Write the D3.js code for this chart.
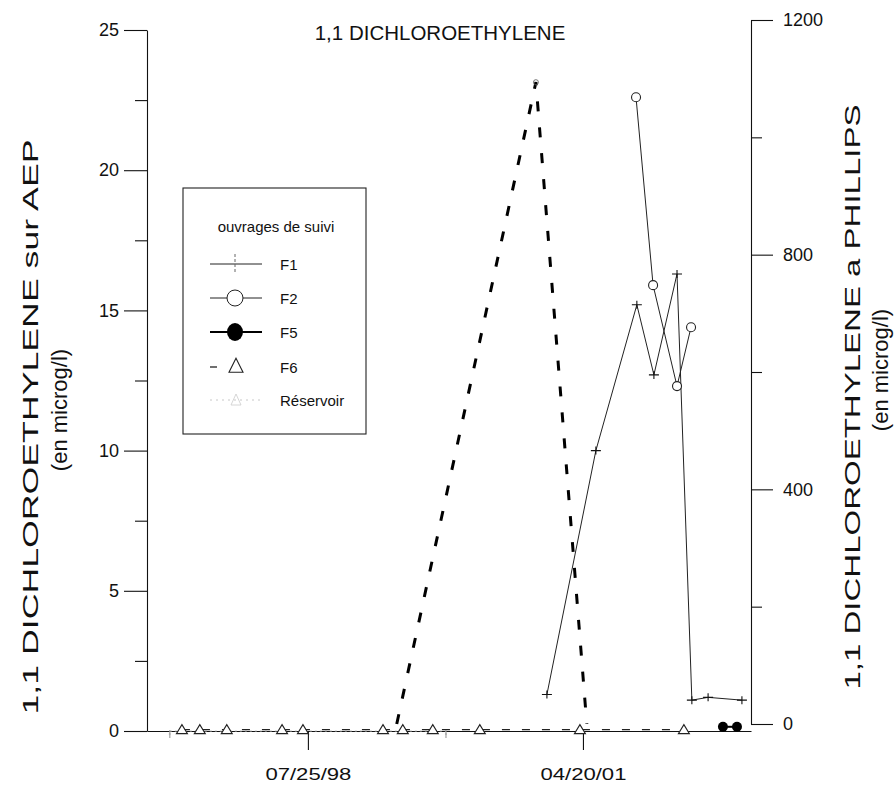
<!DOCTYPE html>
<html>
<head>
<meta charset="utf-8">
<script src="https://cdn.jsdelivr.net/npm/d3@7"></script>
<style>
  body { margin: 0; background: #fff; }
  text { font-family: "Liberation Sans", Arial, sans-serif; fill: #111; }
</style>
</head>
<body>
<svg id="chart" width="894" height="786"></svg>
<script>
const parse = d3.timeParse("%Y-%m-%d");

// values
const f1Dates = ["2000-12-10", "2001-06-06", "2001-11-02", "2002-01-03", "2002-03-28", "2002-05-21", "2002-07-19", "2002-11-19"];
const f1Values = [1.3, 10.0, 15.2, 12.7, 16.3, 1.1, 1.2, 1.1];
const f2Dates = ["2001-10-30", "2001-12-31", "2002-03-28", "2002-05-18"];
const f2Values = [22.6, 15.9, 12.3, 14.4];
const f5Dates = ["2002-09-11", "2002-11-01"];
const f5Values = [0.15, 0.15];
const f6Dates = ["1997-04-23", "1997-06-27", "1997-10-03", "1998-04-22", "1998-07-07", "1999-04-24",
                 "1999-07-05", "1999-10-22", "2000-04-10", "2001-04-09", "2002-04-22"];
const f6Values = [0.05, 0.05, 0.05, 0.05, 0.05, 0.05, 0.05, 0.05, 0.05, 0.05, 0.05];
const reservoirDates = ["1997-03-10", "1999-12-09"];
const reservoirValues = [0, 0];
const phillipsDates = ["1999-06-13", "2000-10-31", "2001-05-04"];
const phillipsValues = [0, 1094, 0];

const leftTicks = [0, 5, 10, 15, 20, 25];
const leftMinor = [2.5, 7.5, 12.5, 17.5, 22.5];
const rightTicks = [0, 400, 800, 1200];
const rightMinor = [200, 600, 1000];
const dateTicks = ["1998-07-25", "2001-04-20"];
const legendNames = ["F1", "F2", "F5", "F6", "Réservoir"];

const svg = d3.select("#chart");

const x = d3.scaleTime()
    .domain([parse("1996-12-17"), parse("2002-12-22")])
    .range([147, 751]);
const yL = d3.scaleLinear().domain([0, 25]).range([731, 30]);
const yR = d3.scaleLinear().domain([0, 1200]).range([724, 20]);

const zip = (dates, vals) => dates.map((d, i) => ({ date: parse(d), v: vals[i] }));
const f1 = zip(f1Dates, f1Values);
const f2 = zip(f2Dates, f2Values);
const f5 = zip(f5Dates, f5Values);
const f6 = zip(f6Dates, f6Values);
const reservoir = zip(reservoirDates, reservoirValues);
const phillips = zip(phillipsDates, phillipsValues);

// ---- axes
const xAxis = svg.append("g")
    .attr("transform", "translate(0,731)")
    .call(d3.axisBottom(x)
        .tickValues(dateTicks.map(parse))
        .tickFormat(d3.timeFormat("%m/%d/%y"))
        .tickSize(19).tickSizeOuter(0).tickPadding(18));
xAxis.selectAll("text").attr("font-size", 17).attr("textLength", 86).attr("lengthAdjust", "spacingAndGlyphs");

const leftAxis = svg.append("g")
    .attr("transform", "translate(147,0)")
    .call(d3.axisLeft(yL).tickValues(leftTicks).tickSize(23).tickSizeOuter(0).tickPadding(5));
leftAxis.selectAll("text").attr("font-size", 18);
svg.append("g")
    .attr("transform", "translate(147,0)")
    .call(d3.axisLeft(yL).tickValues(leftMinor).tickSize(12).tickFormat(""))
    .select(".domain").remove();

const rightAxis = svg.append("g")
    .attr("transform", "translate(751,0)")
    .call(d3.axisRight(yR).tickValues(rightTicks).tickFormat(d3.format("d"))
        .tickSize(22).tickSizeOuter(0).tickPadding(10));
rightAxis.selectAll("text").attr("font-size", 18);
svg.append("g")
    .attr("transform", "translate(751,0)")
    .call(d3.axisRight(yR).tickValues(rightMinor).tickSize(11).tickFormat(""))
    .select(".domain").remove();

svg.selectAll(".domain, .tick line").attr("stroke", "#111").attr("stroke-width", 1.1);

// ---- titles
svg.append("text").attr("x", 440).attr("y", 40).attr("text-anchor", "middle")
    .attr("font-size", 20.5).text("1,1 DICHLOROETHYLENE");

svg.append("text").attr("transform", "translate(38,427) rotate(-90)").attr("text-anchor", "middle")
    .attr("font-size", 22).attr("textLength", 575).attr("lengthAdjust", "spacingAndGlyphs")
    .text("1,1 DICHLOROETHYLENE sur AEP");
svg.append("text").attr("transform", "translate(67,410) rotate(-90)").attr("text-anchor", "middle")
    .attr("font-size", 22).text("(en microg/l)");

svg.append("text").attr("transform", "translate(860,397) rotate(-90)").attr("text-anchor", "middle")
    .attr("font-size", 22).attr("textLength", 585).attr("lengthAdjust", "spacingAndGlyphs")
    .text("1,1 DICHLOROETHYLENE a PHILLIPS");
svg.append("text").attr("transform", "translate(888,370) rotate(-90)").attr("text-anchor", "middle")
    .attr("font-size", 22).text("(en microg/l)");

// ---- series
const lineL = d3.line().x(d => x(d.date)).y(d => yL(d.v));
const lineR = d3.line().x(d => x(d.date)).y(d => yR(d.v));

svg.append("path").datum(reservoir).attr("d", lineL)
    .attr("fill", "none").attr("stroke", "#bbb").attr("stroke-width", 1).attr("stroke-dasharray", "2,3");
svg.append("path").datum(f6).attr("d", lineL)
    .attr("fill", "none").attr("stroke", "#222").attr("stroke-width", 1.3).attr("stroke-dasharray", "8,12");
svg.append("path").datum(phillips).attr("d", lineR)
    .attr("fill", "none").attr("stroke", "#000").attr("stroke-width", 3).attr("stroke-dasharray", "10,16");
svg.append("path").datum(f1).attr("d", lineL)
    .attr("fill", "none").attr("stroke", "#222").attr("stroke-width", 1);
svg.append("path").datum(f2).attr("d", lineL)
    .attr("fill", "none").attr("stroke", "#222").attr("stroke-width", 1);
svg.append("path").datum(f5).attr("d", lineL)
    .attr("fill", "none").attr("stroke", "#000").attr("stroke-width", 2);

function plus(sel, w, h, color) {
  sel.append("path")
    .attr("d", `M${-w},0H${w}M0,${-h}V${h}`)
    .attr("stroke", color).attr("stroke-width", 1.1).attr("fill", "none");
}
function tri(sel, w, h) {
  sel.append("path")
    .attr("d", `M0,${-h * 0.55}L${w},${h * 0.45}L${-w},${h * 0.45}Z`)
    .attr("fill", "#fff").attr("stroke", "#222").attr("stroke-width", 1.1);
}

svg.selectAll(".m-res").data(reservoir).enter().append("g")
    .attr("transform", d => `translate(${x(d.date)},${yL(d.v) + 3})`)
    .each(function () { plus(d3.select(this), 1, 4, "#999"); });
svg.selectAll(".m-f6").data(f6).enter().append("g")
    .attr("transform", d => `translate(${x(d.date)},${yL(d.v)})`)
    .each(function () { tri(d3.select(this), 5.5, 9); });
svg.selectAll(".m-f1").data(f1).enter().append("g")
    .attr("transform", d => `translate(${x(d.date)},${yL(d.v)})`)
    .each(function () { plus(d3.select(this), 5, 4, "#111"); });
svg.selectAll(".m-f2").data(f2).enter().append("circle")
    .attr("cx", d => x(d.date)).attr("cy", d => yL(d.v)).attr("r", 4.5)
    .attr("fill", "#fff").attr("stroke", "#222").attr("stroke-width", 1.1);
svg.selectAll(".m-f5").data(f5).enter().append("circle")
    .attr("cx", d => x(d.date)).attr("cy", d => yL(d.v)).attr("r", 5)
    .attr("fill", "#000");
svg.selectAll(".m-ph").data(phillips.filter(d => d.v > 0)).enter().append("circle")
    .attr("cx", d => x(d.date)).attr("cy", d => yR(d.v)).attr("r", 2.5)
    .attr("fill", "none").attr("stroke", "#555").attr("stroke-width", 0.8);

// ---- legend
const lg = svg.append("g").attr("transform", "translate(183,188)");
lg.append("rect").attr("width", 183).attr("height", 246)
    .attr("fill", "#fff").attr("stroke", "#222").attr("stroke-width", 1.1);
lg.append("text").attr("x", 93).attr("y", 44).attr("text-anchor", "middle")
    .attr("font-size", 15).text("ouvrages de suivi");

const rowY = [76, 110, 144, 179, 212];
legendNames.forEach((name, i) => {
  const g = lg.append("g").attr("transform", `translate(0,${rowY[i]})`);
  g.append("text").attr("x", 97).attr("y", 5.5).attr("font-size", 15).text(name);
  if (name === "F1") {
    g.append("line").attr("x1", 27).attr("x2", 79).attr("stroke", "#222").attr("stroke-width", 1);
    g.append("line").attr("x1", 52).attr("x2", 52).attr("y1", -10).attr("y2", 10)
        .attr("stroke", "#666").attr("stroke-width", 1).attr("stroke-dasharray", "3,2");
  } else if (name === "F2") {
    g.append("line").attr("x1", 27).attr("x2", 79).attr("stroke", "#222").attr("stroke-width", 1);
    g.append("circle").attr("cx", 52).attr("r", 8).attr("fill", "#fff").attr("stroke", "#222").attr("stroke-width", 1);
  } else if (name === "F5") {
    g.append("line").attr("x1", 27).attr("x2", 79).attr("stroke", "#000").attr("stroke-width", 1.8);
    g.append("ellipse").attr("cx", 52).attr("rx", 8).attr("ry", 9).attr("fill", "#000");
  } else if (name === "F6") {
    g.append("line").attr("x1", 27).attr("x2", 34).attr("stroke", "#222").attr("stroke-width", 1.3);
    const t = g.append("g").attr("transform", "translate(53,-1)");
    tri(t, 7, 14);
  } else {
    g.append("line").attr("x1", 27).attr("x2", 79).attr("stroke", "#c8c8c8").attr("stroke-width", 1).attr("stroke-dasharray", "2,4");
    const t = g.append("g").attr("transform", "translate(53,0)");
    t.append("path").attr("d", "M0,-6L5,5L-5,5Z").attr("fill", "none").attr("stroke", "#ccc").attr("stroke-width", 0.8);
  }
});
</script>
</body>
</html>
